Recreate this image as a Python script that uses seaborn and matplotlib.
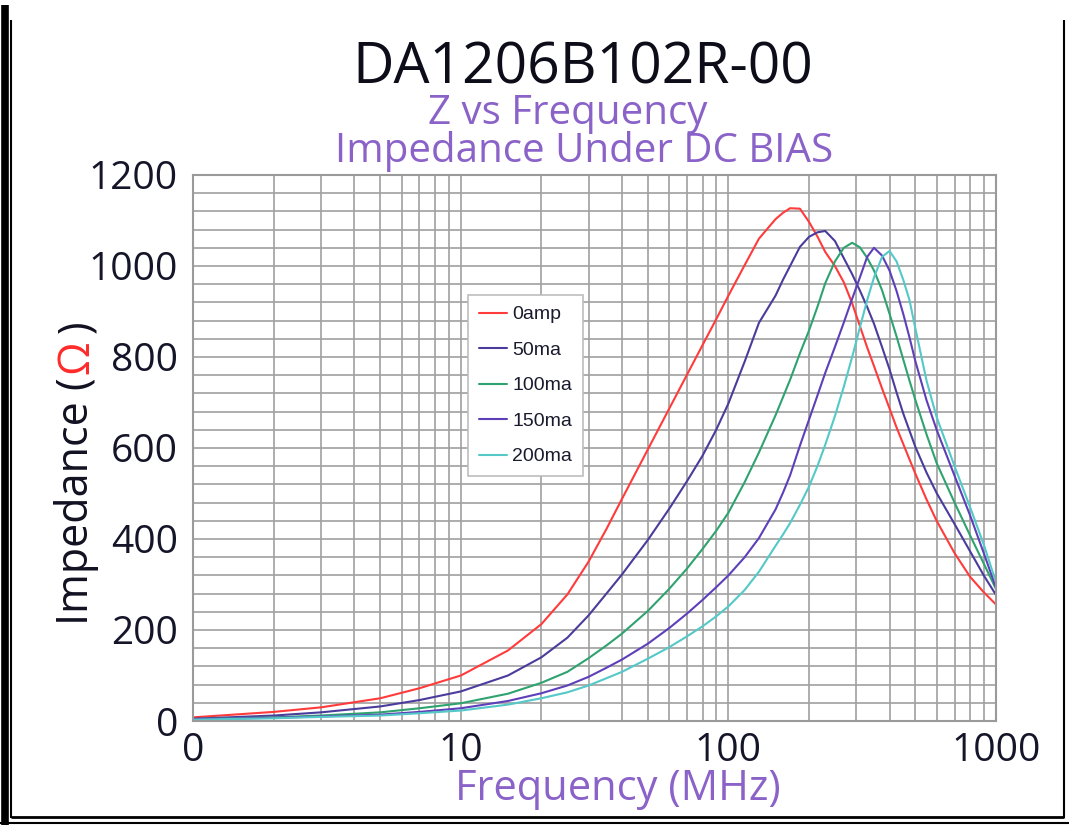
import numpy as np
import pandas as pd
import seaborn as sns
import matplotlib
matplotlib.use("Agg")
import matplotlib.pyplot as plt
from matplotlib.lines import Line2D
from matplotlib.ticker import MultipleLocator, LogLocator, FixedLocator, FixedFormatter, NullFormatter
from matplotlib import font_manager

# ---------------- data ----------------
freq_mhz = [1, 2, 3, 5, 7, 10, 15, 20, 25, 30, 35, 40, 50, 60, 70, 80, 90, 100, 115, 130,
            150, 160, 170, 185, 200, 215, 230, 250, 270, 290, 310, 330, 350, 375, 400,
            425, 450, 475, 500, 550, 600, 700, 800, 900, 1000]

z_0amp = [8, 20, 30, 50, 72, 100, 155, 213, 278, 350, 422, 488, 597, 686, 761, 826, 883, 935, 1002, 1060,
          1103, 1117, 1127, 1126, 1097, 1065, 1031, 1000, 964, 918, 868, 821, 780, 731, 687,
          645, 609, 575, 543, 487, 440, 369, 317, 283, 256]

z_50ma = [5, 12, 19, 32, 46, 65, 100, 140, 183, 232, 280, 322, 398, 466, 527, 583, 640, 698, 790, 875,
          935, 970, 1000, 1042, 1064, 1074, 1077, 1055, 1017, 982, 946, 910, 873, 822, 773,
          722, 676, 638, 602, 546, 501, 433, 373, 320, 277]

z_100ma = [4, 8, 12, 19, 28, 39, 60, 84, 108, 138, 166, 192, 242, 290, 335, 378, 418, 458, 525, 590,
           672, 712, 750, 808, 858, 910, 962, 1010, 1040, 1051, 1041, 1018, 990, 947, 895,
           845, 795, 748, 705, 630, 567, 480, 408, 346, 290]

z_150ma = [4, 7, 10, 14, 20, 28, 44, 61, 78, 97, 117, 135, 170, 204, 236, 266, 294, 320, 360, 402,
           465, 502, 540, 605, 662, 715, 765, 822, 876, 928, 975, 1020, 1040, 1023, 990,
           945, 895, 843, 790, 705, 640, 539, 452, 369, 293]

z_200ma = [3, 6, 9, 12, 17, 23, 36, 50, 63, 78, 94, 108, 137, 162, 186, 208, 230, 252, 288, 328,
           385, 410, 435, 475, 515, 560, 607, 670, 735, 800, 865, 925, 975, 1020, 1033,
           1010, 970, 925, 862, 748, 668, 560, 470, 388, 305]

series_names = ["0amp", "50ma", "100ma", "150ma", "200ma"]
series_values = [z_0amp, z_50ma, z_100ma, z_150ma, z_200ma]
series_colors = ["#FF3B3B", "#4A3C9C", "#2FA36F", "#5E3FBA", "#55C8C8"]

x_tick_values = [1, 10, 100, 1000]
x_tick_labels = ["0", "10", "100", "1000"]
y_tick_values = [0, 200, 400, 600, 800, 1000, 1200]

# ---------------- fonts ----------------
names = {f.name for f in font_manager.fontManager.ttflist}
main_font = "Open Sans" if "Open Sans" in names else "DejaVu Sans"
legend_font = "Liberation Sans" if "Liberation Sans" in names else "DejaVu Sans"

sns.set_theme(style="white")
plt.rcParams["font.family"] = [main_font, "DejaVu Sans"]

W, H = 1069, 825
fig = plt.figure(figsize=(W / 100, H / 100), dpi=100)
fig.patch.set_facecolor("white")

ax_left, ax_right, ax_top, ax_bottom = 193.3, 996, 175, 721
ax = fig.add_axes([ax_left / W, 1 - ax_bottom / H, (ax_right - ax_left) / W, (ax_bottom - ax_top) / H])
ax.set_facecolor("white")

df = pd.DataFrame({"freq": freq_mhz})
for name, vals, col in zip(series_names, series_values, series_colors):
    df[name] = vals
    sns.lineplot(data=df, x="freq", y=name, color=col, lw=1.5, label=name, ax=ax,
                 estimator=None, sort=False)

ax.set_xscale("log")
ax.set_xlim(1, 1000)
ax.set_ylim(0, 1200)
ax.set_xlabel("")
ax.set_ylabel("")

ax.xaxis.set_major_locator(FixedLocator(x_tick_values))
ax.xaxis.set_major_formatter(FixedFormatter(x_tick_labels))
ax.xaxis.set_minor_locator(LogLocator(base=10, subs=np.arange(2, 10)))
ax.xaxis.set_minor_formatter(NullFormatter())
ax.yaxis.set_major_locator(FixedLocator(y_tick_values))
ax.yaxis.set_minor_locator(MultipleLocator(40))

ax.grid(which="both", color="#a0a0a0", lw=1.2)
ax.set_axisbelow(True)
for s in ax.spines.values():
    s.set_color("#9a9a9a")
    s.set_linewidth(1.5)

ax.tick_params(axis="both", which="major", labelsize=28, colors="#15152a",
               length=4, width=1, direction="out")
ax.tick_params(axis="y", which="major", pad=6, length=5)
ax.tick_params(axis="x", which="major", pad=4)
ax.tick_params(axis="y", which="minor", length=3, width=1, color="#333366")
ax.tick_params(axis="x", which="minor", length=0)
for lab in ax.get_xticklabels() + ax.get_yticklabels():
    lab.set_color("#15152a")

leg = ax.legend(loc="upper left", bbox_to_anchor=(468 / W, 1 - 295 / H),
                bbox_transform=fig.transFigure, borderaxespad=0,
                prop={"family": legend_font, "size": 14},
                frameon=True, fancybox=False, edgecolor="#bdbdbd",
                labelspacing=0.92, handlelength=1.45, handletextpad=0.28,
                borderpad=0.55, framealpha=1)
leg.get_frame().set_linewidth(1.2)
for t in leg.get_texts():
    t.set_color("#1a1a2e")

# ---------------- titles ----------------
purple = "#8A62C8"
fig.text(583 / W, 1 - 83 / H, "DA1206B102R-00", ha="center", va="baseline",
         fontsize=41, color="#0d0d1a")
fig.text(568 / W, 1 - 124 / H, "Z vs Frequency", ha="center", va="baseline",
         fontsize=29, color=purple)
fig.text(584 / W, 1 - 162 / H, "Impedance Under DC BIAS", ha="center", va="baseline",
         fontsize=29, color=purple)

fig.text(618 / W, 1 - 800 / H, "Frequency (MHz)", ha="center", va="baseline",
         fontsize=30, color=purple)

# y label with red omega
fig.canvas.draw()
renderer = fig.canvas.get_renderer()
xb = 88 / W
t1 = fig.text(xb, 1 - 625 / H, "Impedance (", rotation=90, rotation_mode="anchor",
              ha="left", va="baseline", fontsize=31, color="#111122")
bb = t1.get_window_extent(renderer)
t2 = fig.text(xb, (bb.y1 + 3) / H, "\u03A9", rotation=90, rotation_mode="anchor",
              ha="left", va="baseline", fontsize=31, color="#FF2A2A")
bb2 = t2.get_window_extent(renderer)
fig.text(xb, (bb2.y1 + 8) / H, ")", rotation=90, rotation_mode="anchor",
         ha="left", va="baseline", fontsize=31, color="#111122")

# ---------------- frame lines ----------------
def fline(x0, y0, x1, y1, lw):
    fig.add_artist(Line2D([x0 / W, x1 / W], [1 - y0 / H, 1 - y1 / H],
                          transform=fig.transFigure, color="black", lw=lw,
                          solid_capstyle="butt"))

fline(4.5, 5, 4.5, 825, 5.5)
fline(11, 20, 11, 818, 1.5)
fline(1064, 20, 1064, 818, 1.5)
fline(11, 817, 1064, 817, 2.0)
fline(0, 823, 1069, 823, 1.5)

fig.savefig("out.png", dpi=100, facecolor="white")
